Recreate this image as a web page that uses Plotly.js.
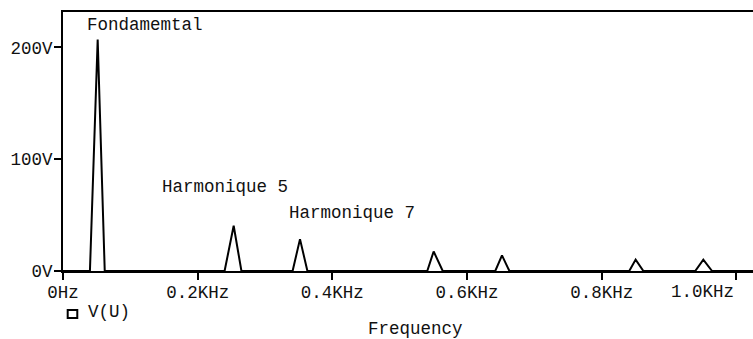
<!DOCTYPE html>
<html>
<head>
<meta charset="utf-8">
<script src="https://cdn.plot.ly/plotly-3.0.1.min.js"></script>
<style>
  html, body { margin: 0; padding: 0; background: #fff; overflow: hidden; }
  #chart { width: 753px; height: 339px; }
</style>
</head>
<body>
<div id="chart"></div>
<script>
// FFT spectrum of V(U): frequency in kHz, amplitude in volts
var freqKHz = [0, 0.040, 0.0515, 0.062,
               0.240, 0.2535, 0.265,
               0.341, 0.352, 0.363,
               0.541, 0.5505, 0.564,
               0.642, 0.652, 0.663,
               0.841, 0.8505, 0.862,
               0.939, 0.951, 0.964,
               1.1];
var ampV = [0, 0, 207, 0,
            0, 40.5, 0,
            0, 28.5, 0,
            0, 17.5, 0,
            0, 14, 0,
            0, 10.2, 0,
            0, 10.2, 0,
            0];

var xTickVals = [0, 0.2, 0.4, 0.6, 0.8, 1.0];
var xTickText = ['0Hz', '0.2KHz', '0.4KHz', '0.6KHz', '0.8KHz', '1.0KHz'];
var yTickVals = [0, 100, 200];
var yTickText = ['0V', '100V', '200V'];

// the last frequency label sits left of its tick so it stays inside the window
var lastTick = xTickVals.length - 1;
var xTickTextShown = xTickText.map(function (t, i) { return i === lastTick ? '' : t; });

var mono = 'Liberation Mono, Courier New, DejaVu Sans Mono, monospace';
var txtFont = { family: mono, size: 17.5, color: '#111' };

var trace = {
  x: freqKHz,
  y: ampV,
  type: 'scatter',
  mode: 'lines',
  name: 'V(U)',
  line: { color: '#000', width: 2 },
  cliponaxis: false,
  showlegend: false,
  hoverinfo: 'x+y'
};

var layout = {
  width: 753,
  height: 339,
  margin: { l: 63, r: 0, t: 12, b: 68 },
  paper_bgcolor: '#fff',
  plot_bgcolor: '#fff',
  font: txtFont,
  showlegend: false,
  xaxis: {
    range: [0, 1.0248],
    tickvals: xTickVals,
    ticktext: xTickTextShown,
    showgrid: false,
    zeroline: false,
    showline: true,
    mirror: true,
    linecolor: '#000',
    linewidth: 2,
    ticks: 'outside',
    ticklen: 7,
    tickwidth: 2,
    tickcolor: '#000',
    tickfont: txtFont,
    ticklabelstandoff: -3,
    fixedrange: true
  },
  yaxis: {
    range: [0, 231.7],
    tickvals: yTickVals,
    ticktext: yTickText,
    showgrid: false,
    zeroline: false,
    showline: true,
    linecolor: '#000',
    linewidth: 2,
    ticks: 'outside',
    ticklen: 7,
    tickwidth: 2,
    tickcolor: '#000',
    tickfont: txtFont,
    ticklabelstandoff: -2,
    fixedrange: true
  },
  shapes: [
    // legend marker for V(U)
    { type: 'rect', xref: 'paper', yref: 'paper',
      x0: 0.0068, x1: 0.0207, y0: -0.1506, y1: -0.1815,
      line: { color: '#000', width: 2 }, fillcolor: 'rgba(0,0,0,0)' }
  ],
  annotations: [
    { text: xTickText[lastTick], xref: 'x', yref: 'paper', x: xTickVals[lastTick], y: -0.080,
      xanchor: 'right', yanchor: 'middle', showarrow: false, font: txtFont },
    { text: 'Fondamemtal', xref: 'x', yref: 'y', x: 0.0334, y: 220,
      xanchor: 'left', yanchor: 'middle', showarrow: false, font: txtFont },
    { text: 'Harmonique 5', xref: 'x', yref: 'y', x: 0.1434, y: 74.8,
      xanchor: 'left', yanchor: 'middle', showarrow: false, font: txtFont },
    { text: 'Harmonique 7', xref: 'x', yref: 'y', x: 0.3332, y: 52,
      xanchor: 'left', yanchor: 'middle', showarrow: false, font: txtFont },
    { text: 'V(U)', xref: 'paper', yref: 'paper', x: 0.0333, y: -0.1583,
      xanchor: 'left', yanchor: 'middle', showarrow: false, font: txtFont },
    { text: 'Frequency', xref: 'paper', yref: 'paper', x: 0.511, y: -0.225,
      xanchor: 'center', yanchor: 'middle', showarrow: false, font: txtFont }
  ]
};

Plotly.newPlot('chart', [trace], layout, { displayModeBar: false, staticPlot: true });
</script>
</body>
</html>
